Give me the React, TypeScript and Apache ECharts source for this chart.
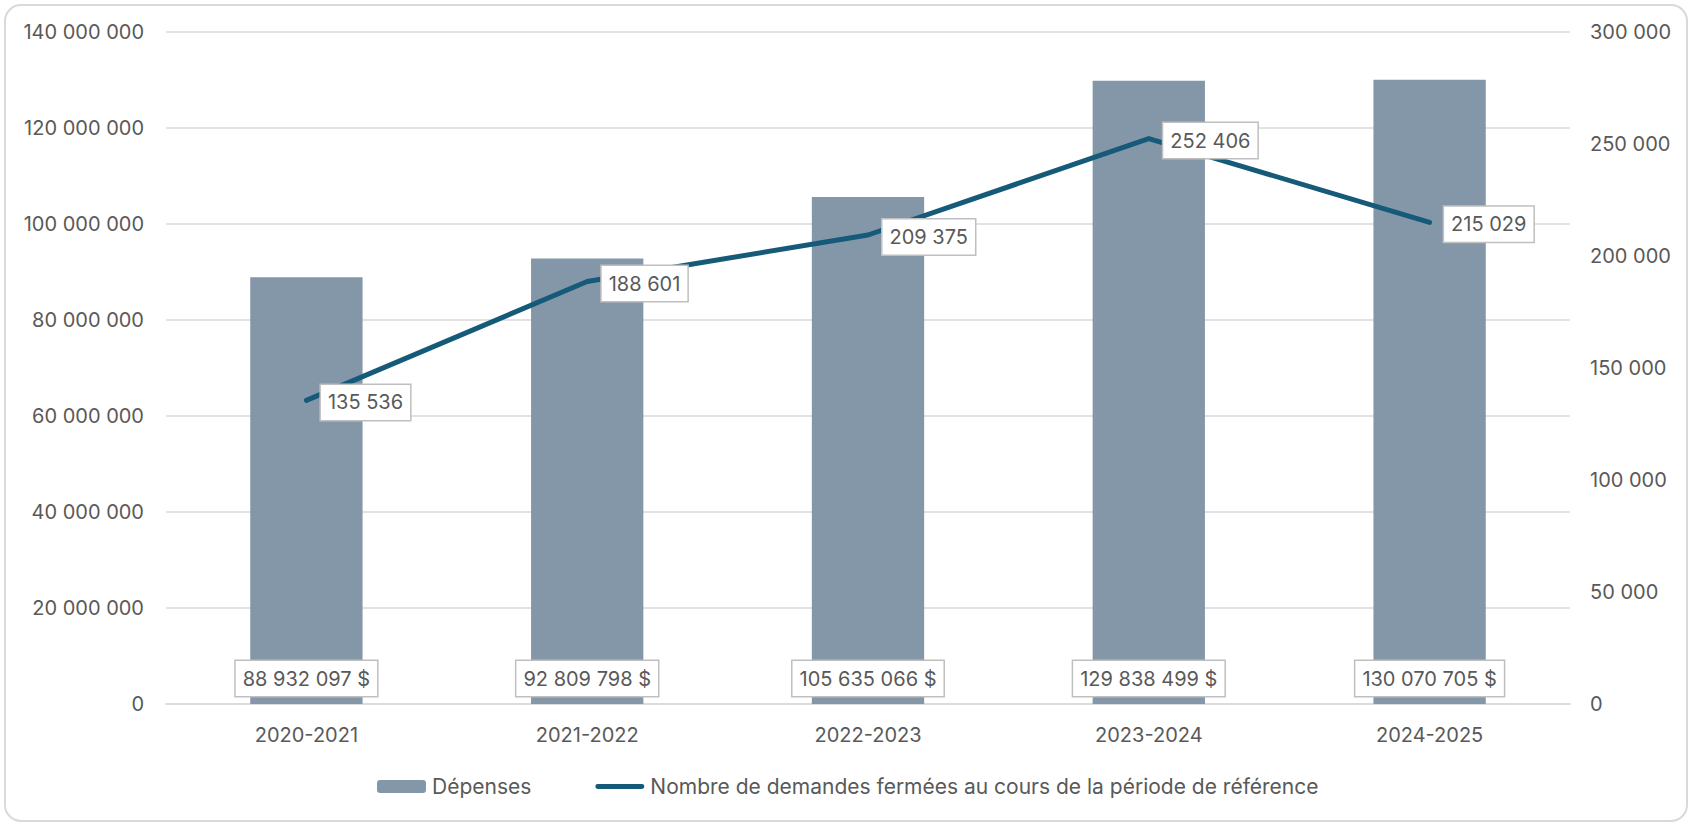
import React, { useEffect, useRef } from "react";
import * as echarts from "echarts";

const categories = ["2020-2021", "2021-2022", "2022-2023", "2023-2024", "2024-2025"];
const depenses = [88932097, 92809798, 105635066, 129838499, 130070705];
const demandes = [135536, 188601, 209375, 252406, 215029];
const seriesNames = ["Dépenses", "Nombre de demandes fermées au cours de la période de référence"];

const fmt = (v: number) => String(Math.round(v)).replace(/\B(?=(\d{3})+(?!\d))/g, " ");

const FONT = "Inter, 'Open Sans', sans-serif";
const TXT = "#595959";
const BAR = "#8497a9";
const LINE = "#165a79";
const FS = 20;

export default function App() {
  const ref = useRef<HTMLDivElement>(null);
  useEffect(() => {
    document.body.style.margin = "0";
    const chart = echarts.init(ref.current!, null, { renderer: "svg" });
    const labelBox = {
      show: true,
      color: TXT,
      fontFamily: FONT,
      fontSize: FS,
      lineHeight: 22,
      backgroundColor: "#ffffff",
      borderColor: "#bfbfbf",
      borderWidth: 1.5,
      padding: [7, 7, 6, 7],
    };
    chart.setOption({
      animation: false,
      backgroundColor: "#ffffff",
      textStyle: { fontFamily: FONT },
      graphic: [
        {
          type: "rect",
          shape: { x: 5, y: 5, width: 1682, height: 816, r: 16 },
          style: { fill: "none", stroke: "#d9d9d9", lineWidth: 2 },
          silent: true,
          z: -10,
        },
      ],
      grid: { left: 166, right: 123, top: 32, bottom: 120 },
      legend: {
        left: 372,
        top: 771,
        itemGap: 64,
        itemWidth: 49,
        itemHeight: 13,
        textStyle: { color: TXT, fontSize: 21, fontFamily: FONT, padding: [0, 0, 0, 1] },
        data: [
          { name: seriesNames[0] },
          {
            name: seriesNames[1],
            icon: "path://M2.5,0 H47.5 A2.5,2.5 0 0 1 47.5,5 H2.5 A2.5,2.5 0 0 1 2.5,0 Z",
          },
        ],
      },
      xAxis: {
        type: "category",
        data: categories,
        axisTick: { show: false },
        axisLine: { lineStyle: { color: "#d9d9d9", width: 1.5 } },
        axisLabel: { color: TXT, fontSize: FS, fontFamily: FONT, margin: 21 },
      },
      yAxis: [
        {
          type: "value",
          min: 0,
          max: 140000000,
          interval: 20000000,
          axisLabel: { color: TXT, fontSize: FS, fontFamily: FONT, margin: 22, formatter: (v: number) => fmt(v) },
          splitLine: { lineStyle: { color: "#d9d9d9", width: 1.5 } },
          axisLine: { show: false },
          axisTick: { show: false },
        },
        {
          type: "value",
          min: 0,
          max: 300000,
          interval: 50000,
          position: "right",
          axisLabel: { color: TXT, fontSize: FS, fontFamily: FONT, margin: 20, formatter: (v: number) => fmt(v) },
          splitLine: { show: false },
          axisLine: { show: false },
          axisTick: { show: false },
        },
      ],
      series: [
        {
          name: seriesNames[0],
          type: "bar",
          data: depenses,
          barWidth: "40%",
          itemStyle: { color: BAR },
          label: {
            ...labelBox,
            position: "insideBottom",
            distance: 8,
            formatter: (p: any) => fmt(p.value) + " $",
          },
          z: 2,
        },
        {
          name: seriesNames[1],
          type: "line",
          yAxisIndex: 1,
          data: demandes,
          symbol: "circle",
          symbolSize: 1,
          showSymbol: true,
          lineStyle: { color: LINE, width: 5, cap: "round", join: "round" },
          itemStyle: { color: LINE },
          label: {
            ...labelBox,
            position: "right",
            distance: 14,
            offset: [0, 2],
            formatter: (p: any) => fmt(p.value),
          },
          z: 5,
        },
      ],
    });
    return () => chart.dispose();
  }, []);
  return <div ref={ref} style={{ width: 1693, height: 824 }} />;
}
